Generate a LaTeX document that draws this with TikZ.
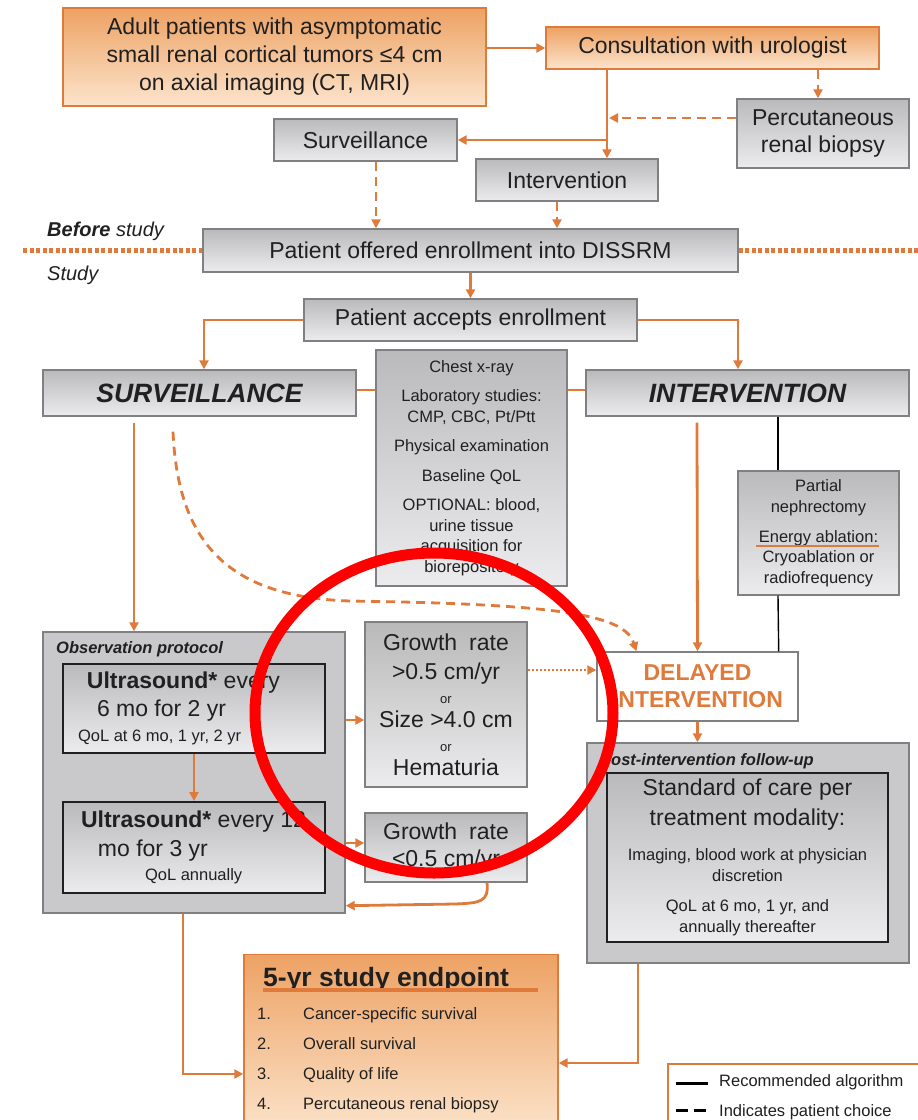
\documentclass[tikz,border=0pt]{standalone}
\usepackage{fontspec}
\setmainfont{Liberation Sans}
\usetikzlibrary{arrows.meta, calc}

\definecolor{flowc}{RGB}{224,122,58}
\definecolor{edgegrey}{RGB}{128,128,131}
\definecolor{greytop}{RGB}{186,186,189}
\definecolor{greybot}{RGB}{236,236,238}
\definecolor{panel}{RGB}{201,201,203}
\definecolor{orgtop}{RGB}{237,162,100}
\definecolor{orgbot}{RGB}{252,228,204}
\definecolor{ink}{RGB}{32,32,32}
\newcommand{\txtS}{\fontsize{16.5}{20.5}\selectfont}
\newcommand{\txtM}{\fontsize{23}{28}\selectfont}
\newcommand{\txtL}{\fontsize{26.5}{30}\selectfont}
\newcommand{\txtOr}{\fontsize{13}{14}\selectfont}

\begin{document}
\begin{tikzpicture}[x=1pt, y=-1pt, every node/.style={text=ink},
  flow/.style={draw=flowc, line width=2.8pt},
  arr/.style={flow, -{Triangle[length=9pt, width=9pt]}},
  choice/.style={arr, dash pattern=on 9pt off 6pt},
  greybox/.style={draw=edgegrey, line width=1.4pt, top color=greytop, bottom color=greybot, inner sep=0pt, align=center, font=\txtM},
  orangebox/.style={draw=flowc, line width=1.4pt, top color=orgtop, bottom color=orgbot, inner sep=0pt, align=center, font=\txtM},
  panelbox/.style={draw=edgegrey, line width=1.4pt, fill=panel, inner sep=0pt},
  innerbox/.style={draw=ink, line width=1.8pt, top color=greytop, bottom color=greybot, inner sep=0pt},
  heading/.style={anchor=base west, inner sep=0pt, font=\txtS\bfseries\itshape}]
  \path[use as bounding box, fill=white] (0,0) rectangle (918,1120);

  % before study
  \node[orangebox, minimum width=423pt, minimum height=98pt] (adult) at (274.5,57)
    {Adult patients with asymptomatic\\small renal cortical tumors ≤4 cm\\on axial imaging (CT, MRI)};
  \node[orangebox, minimum width=333pt, minimum height=42pt] (consult) at (712.5,48) {Consultation with urologist};
  \node[greybox, minimum width=183pt, minimum height=42pt] (surv0) at (365.5,140) {Surveillance};
  \node[greybox, minimum width=172pt, minimum height=69pt, font=\fontsize{23}{27}\selectfont] (biopsy) at (823,133.5) {Percutaneous\\renal biopsy};
  \node[greybox, minimum width=182pt, minimum height=42pt] (interv0) at (567,180) {Intervention};
  \node[greybox, minimum width=535pt, minimum height=43pt] (offered) at (470.5,250.5) {Patient offered enrollment into DISSRM};
  \node[anchor=base west, inner sep=0pt, font=\fontsize{20}{24}\selectfont] (before) at (47,236) {\textbf{\textit{Before}} \textit{study}};
  \node[anchor=base west, inner sep=0pt, font=\fontsize{20}{24}\selectfont] (study) at (47,280) {\textit{Study}};
  \coordinate (sepL) at (23,250.5);
  \coordinate (sepR) at (918,250.5);

  % study arms
  \node[greybox, minimum width=333pt, minimum height=42pt] (accepts) at (470.5,320) {Patient accepts enrollment};
  \node[greybox, minimum width=313pt, minimum height=46pt, font=\txtL\bfseries\itshape] (survS) at (199.5,393) {SURVEILLANCE};
  \node[greybox, minimum width=323pt, minimum height=46pt, font=\txtL\bfseries\itshape] (intervS) at (747.5,393) {INTERVENTION};
  \node[greybox, minimum width=191pt, minimum height=236pt, font=\txtS] (checks) at (471.5,468)
    {Chest x-ray\\[9pt]Laboratory studies:\\CMP, CBC, Pt/Ptt\\[9pt]Physical examination\\[9pt]Baseline QoL\\[9pt]OPTIONAL: blood,\\urine tissue\\acquisition for\\biorepository};
  \node[greybox, minimum width=161pt, minimum height=124pt, font=\txtS] (partial) at (818.5,533)
    {Partial\\nephrectomy\\[9.5pt]Energy ablation:\\Cryoablation or\\radiofrequency};
  \draw[flowc, line width=1.5pt] (756,546) -- (879,546);
  \node[draw=edgegrey, line width=1.4pt, fill=white, inner sep=0pt, align=center, minimum width=201pt, minimum height=69pt,
    font=\fontsize{23}{27}\selectfont\bfseries, text=flowc] (delayed) at (697.5,686.5) {DELAYED\\INTERVENTION};

  % observation protocol
  \node[panelbox, minimum width=302pt, minimum height=281pt] (obs) at (194,772.5) {};
  \node[heading] (obstitle) at (56,653) {Observation protocol};
  \node[innerbox, minimum width=262pt, minimum height=89pt, text width=240pt, align=flush left, font=\fontsize{23}{25}\selectfont] (usA) at (194,708.5)
    {\hspace*{13pt}\textbf{Ultrasound*} every\\[3pt]\hspace*{23pt}6 mo for 2 yr\\\hspace*{4pt}{\txtS QoL at 6 mo, 1 yr, 2 yr}};
  \node[innerbox, minimum width=262pt, minimum height=91pt, text width=240pt, align=flush left, font=\fontsize{23}{24}\selectfont] (usB) at (194,847.5)
    {\hspace*{7pt}\textbf{Ultrasound*} every 12\\[5pt]\hspace*{24pt}mo for 3 yr\\\hspace*{71pt}{\txtS QoL annually}};
  \node[greybox, minimum width=162pt, minimum height=165pt, top color=gray!55, font=\fontsize{23}{24}\selectfont] (growthA) at (446,704.5)
    {Growth\hspace{12pt}rate\\[5pt]>0.5 cm/yr\\{\txtOr or}\\Size >4.0 cm\\{\txtOr or}\\Hematuria};
  \node[greybox, minimum width=162pt, minimum height=69pt, font=\fontsize{23}{27}\selectfont] (growthB) at (446,847.5)
    {Growth\hspace{12pt}rate\\<0.5 cm/yr};

  % post-intervention follow-up
  \node[panelbox, minimum width=322pt, minimum height=220pt] (post) at (748,853) {};
  \node[heading] (posttitle) at (600,765) {Post-intervention follow-up};
  \node[innerbox, minimum width=281pt, minimum height=169pt, align=center, font=\txtS] (care) at (747.5,857.5)
    {{\txtM Standard of care per}\\[7pt]{\txtM treatment modality:}\\[15pt]Imaging, blood work at physician\\discretion\\[10pt]QoL at 6 mo, 1 yr, and\\annually thereafter};

  % endpoint and legend
  \node[orangebox, minimum width=314pt, minimum height=180pt, anchor=north] (endpt) at (401,954) {};
  \node[anchor=base west, inner sep=0pt, font=\txtL\bfseries] (eptitle) at (263,986) {5-yr study endpoint};
  \draw[flowc, line width=4pt] (263,990) -- (538,990);
  \foreach \t [count=\i] in {Cancer-specific survival, Overall survival, Quality of life, Percutaneous renal biopsy} {
    \node[anchor=base west, inner sep=0pt, font=\txtS] (num\i) at (257,{988.7+30.3*\i}) {\i.};
    \node[anchor=base west, inner sep=0pt, font=\txtS] (item\i) at (303,{988.7+30.3*\i}) {\t};
  }
  \node[draw=flowc, line width=1.5pt, fill=white, minimum width=270pt, minimum height=70pt, anchor=north west] (legend) at (667,1063) {};
  \draw[black, line width=3pt] (676,1083) -- (708,1083);
  \draw[black, line width=3pt, dash pattern=on 12pt off 6pt] (676,1110) -- (711,1110);
  \node[anchor=base west, inner sep=0pt, font=\txtS] (leg1) at (719,1086) {Recommended algorithm};
  \node[anchor=base west, inner sep=0pt, font=\txtS] (leg2) at (719,1116) {Indicates patient choice};

  % connectors before study
  \coordinate (split) at (607,140);
  \coordinate (bjoin) at (609,118);
  \draw[arr] ($(adult.east)+(0,-9)$) -- (consult.west);
  \draw[arr] ($(consult.south)+(-105.5,0)$) -- ($(interv0.north)+(40,0)$);
  \draw[arr] (split) -- (surv0.east);
  \draw[choice] ($(consult.south)+(105.5,0)$) -- ($(biopsy.north)+(-5,0)$);
  \draw[choice] ($(biopsy.west)+(0,-15.5)$) -- (bjoin);
  \draw[choice] ($(surv0.south)+(10.5,0)$) -- ($(offered.north)+(-94.5,0)$);
  \draw[choice] ($(interv0.south)+(-10,0)$) -- ($(offered.north)+(86.5,0)$);
  \draw[flowc, line width=4.5pt, dash pattern=on 4pt off 2.5pt] (sepL) -- (offered.west);
  \draw[flowc, line width=4.5pt, dash pattern=on 4pt off 2.5pt] (offered.east) -- (sepR);

  % connectors in study
  \draw[arr] (offered.south) -- (accepts.north);
  \draw[arr] (accepts.west) -| ($(survS.north)+(4.5,0)$);
  \draw[arr] (accepts.east) -| ($(intervS.north)+(-9.5,0)$);
  \draw[flow] ($(survS.east)+(0,-3)$) -- ($(checks.west |- survS.east)+(0,-3)$);
  \draw[flow] ($(checks.east |- intervS.west)+(0,-3)$) -- ($(intervS.west)+(0,-3)$);
  \draw[arr] ($(survS.south)+(-65.5,6)$) -- ($(obs.north)+(-60,0)$);
  \draw[choice] ($(survS.south)+(-26.5,15)$) .. controls (178,545) and (230,597) .. (350,601)
    .. controls (560,604) and (625,615) .. ($(delayed.north west)+(40,0)$);
  \draw[arr] ($(intervS.south)+(-50.5,6)$) -- (delayed.north);
  \draw[black, line width=1.4pt] ($(intervS.south)+(30.5,0)$) -- ($(partial.north)+(-40.5,0)$);
  \draw[black, line width=1.4pt] ($(partial.south)+(-40.5,0)$) -- ($(delayed.north east)+(-20,0)$);
  \draw[arr] (usA.south) -- (usB.north);
  \draw[arr] ($(obs.east)+(0,-52.5)$) -- ($(growthA.west)+(0,15.5)$);
  \draw[arr] ($(obs.east)+(0,70.5)$) -- ($(growthB.west)+(0,-4.5)$);
  \draw[arr, line width=2pt, dash pattern=on 2pt off 2pt] ($(growthA.east)+(0,-34.5)$) -- ($(delayed.west)+(0,-16.5)$);
  \draw[arr] ($(growthB.south)+(41,0)$) .. controls (489,902) and (480,903) .. (455,904) -- ($(obs.south east)+(0,-8)$);
  \draw[arr] (delayed.south) -- (post.north -| delayed.south);
  \draw[arr] ($(obs.south)+(-11,0)$) |- ($(endpt.north west)+(0,120)$);
  \draw[arr] ($(post.south)+(-110,0)$) |- ($(endpt.north east)+(0,109)$);

  % red mark
  \draw[red, line width=11pt] (434,713) ellipse [x radius=179pt, y radius=160pt];
\end{tikzpicture}
\end{document}
